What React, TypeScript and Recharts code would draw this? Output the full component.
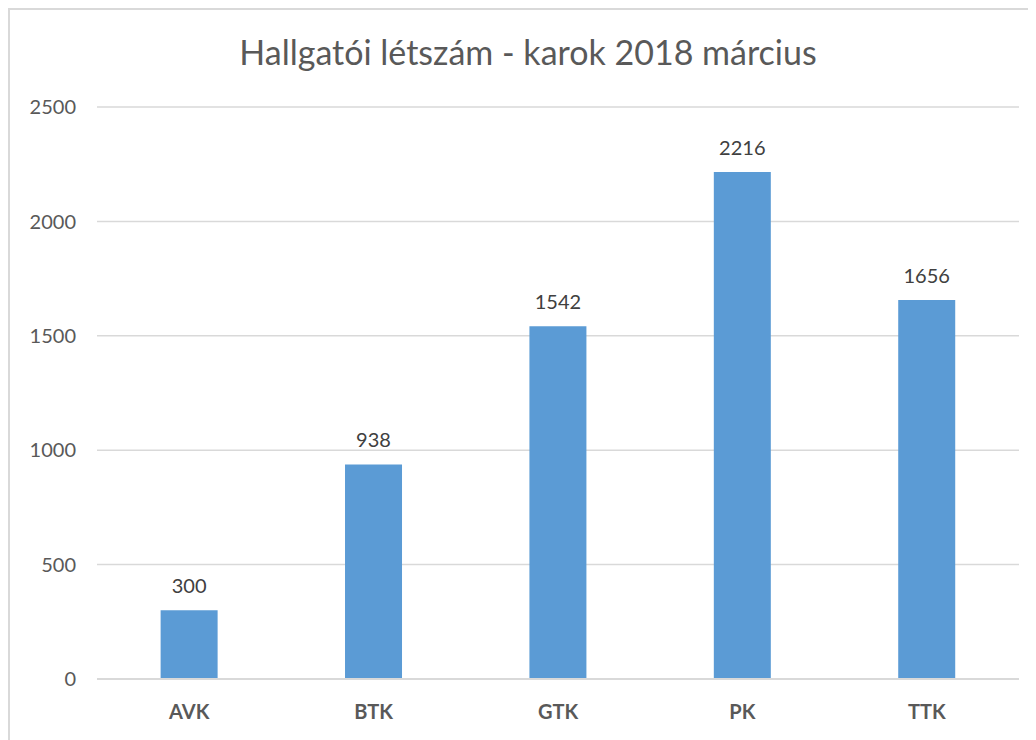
import React from 'react';
import { BarChart, Bar, XAxis, YAxis, CartesianGrid, LabelList } from 'recharts';

const faculties = ['AVK', 'BTK', 'GTK', 'PK', 'TTK'];
const students = [300, 938, 1542, 2216, 1656];
const yTicks = [0, 500, 1000, 1500, 2000, 2500];

const data = faculties.map((name, i) => ({ name, value: students[i] }));

const FONT = 'Lato, "Open Sans", sans-serif';

const App: React.FC = () => {
  return (
    <div
      style={{
        position: 'relative',
        width: 1100,
        height: 800,
        border: '2px solid #d9d9d9',
        boxSizing: 'border-box',
        background: '#fff',
        fontFamily: FONT,
      }}
    >
      {/* chart title */}
      <div
        style={{
          position: 'absolute',
          left: 0,
          width: 1036,
          top: 22,
          textAlign: 'center',
          fontSize: 34,
          lineHeight: '40px',
          color: '#595959',
        }}
      >
        Hallgatói létszám - karok 2018 március
      </div>
      <BarChart
        width={1026}
        height={730}
        data={data}
        margin={{ top: 97, right: 17, bottom: 21, left: 27 }}
        barCategoryGap="34.5%"
      >
        <CartesianGrid vertical={false} stroke="#d9d9d9" strokeWidth={1.5} />
        <XAxis
          dataKey="name"
          height={40}
          axisLine={{ stroke: '#d9d9d9', strokeWidth: 2 }}
          tickLine={false}
          tickMargin={20}
          tick={{ fill: '#595959', fontSize: 20, fontWeight: 700, fontFamily: FONT }}
        />
        <YAxis
          width={60}
          domain={[0, 2500]}
          ticks={yTicks}
          axisLine={false}
          tickLine={false}
          tickMargin={15}
          tick={{ fill: '#595959', fontSize: 20, fontFamily: FONT }}
        />
        <Bar dataKey="value" fill="#5b9bd5" isAnimationActive={false}>
          <LabelList
            dataKey="value"
            position="top"
            offset={17}
            fill="#404040"
            fontSize={20}
            fontFamily={FONT}
          />
        </Bar>
      </BarChart>
    </div>
  );
};

export default App;
